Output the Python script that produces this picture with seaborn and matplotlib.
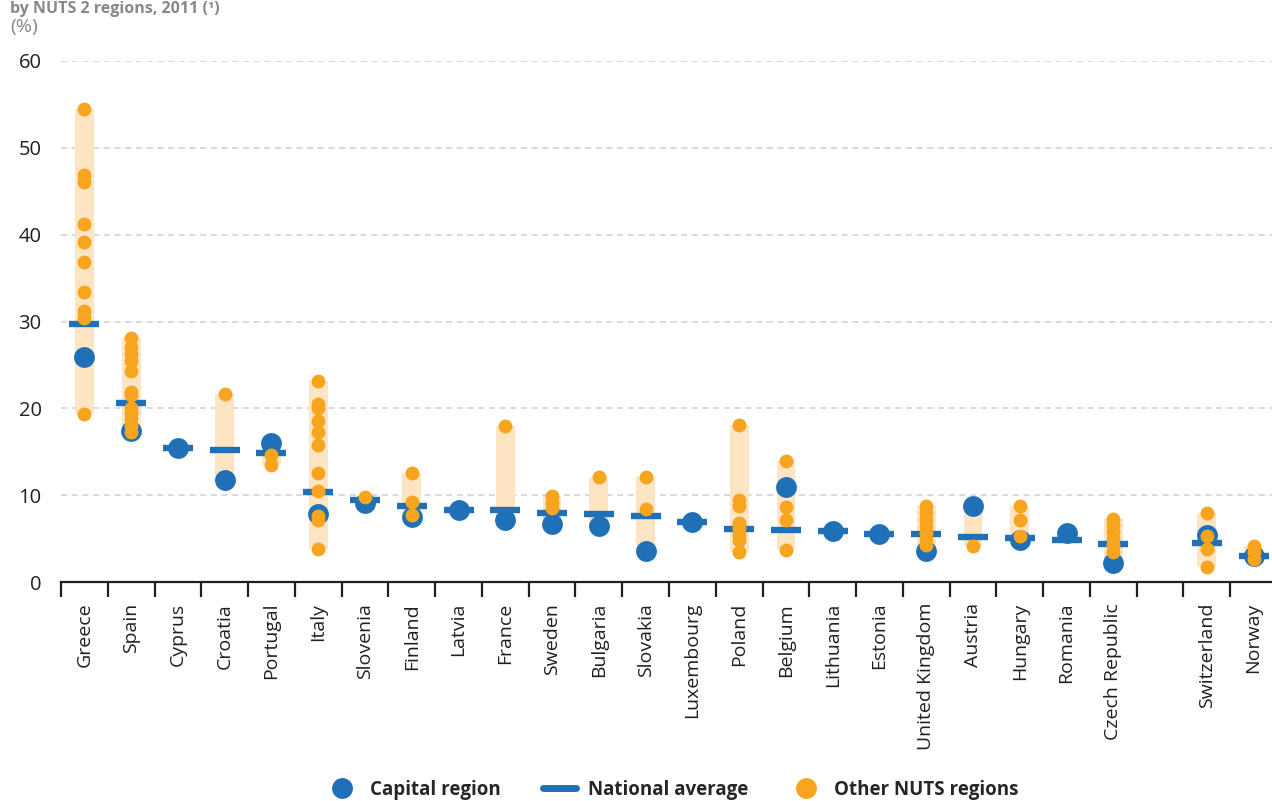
import numpy as np
import pandas as pd
import matplotlib
matplotlib.use("Agg")
import matplotlib.pyplot as plt
import seaborn as sns
from matplotlib.lines import Line2D

# ---------------- data ----------------
countries = ["Greece", "Spain", "Cyprus", "Croatia", "Portugal", "Italy", "Slovenia",
             "Finland", "Latvia", "France", "Sweden", "Bulgaria", "Slovakia",
             "Luxembourg", "Poland", "Belgium", "Lithuania", "Estonia",
             "United Kingdom", "Austria", "Hungary", "Romania", "Czech Republic",
             " ", "Switzerland", "Norway"]

capital = [25.9, 17.4, 15.4, 11.7, 16.0, 7.8, 9.1, 7.5, 8.3, 7.1, 6.7, 6.4, 3.6,
           6.9, np.nan, 10.9, 5.9, 5.5, 3.6, 8.8, 4.8, 5.6, 2.2, np.nan, 5.4, 3.0]

national = [29.7, 20.6, 15.4, 15.2, 14.9, 10.4, 9.4, 8.8, 8.3, 8.3, 7.9, 7.8, 7.6,
            6.9, 6.1, 6.0, 5.9, 5.5, 5.5, 5.2, 5.1, 4.8, 4.4, np.nan, 4.5, 3.0]

greece_other = [54.5, 46.9, 46.1, 41.2, 39.2, 36.8, 33.4, 31.2, 30.4, 19.3]
spain_other = [28.1, 27.1, 26.3, 25.4, 24.3, 21.9, 21.5, 20.0, 19.5, 18.8, 18.0, 17.3]
cyprus_other = []
croatia_other = [21.7]
portugal_other = [14.6, 13.5]
italy_other = [23.2, 20.5, 20.0, 18.5, 17.3, 15.8, 12.5, 10.5, 7.6, 7.1, 3.8]
slovenia_other = [9.8]
finland_other = [12.5, 9.2, 7.7]
latvia_other = []
france_other = [18.0]
sweden_other = [9.9, 9.1, 8.5]
bulgaria_other = [12.1]
slovakia_other = [12.1, 8.4]
luxembourg_other = []
poland_other = [18.1, 9.4, 8.7, 6.8, 6.2, 5.4, 4.8, 3.5]
belgium_other = [13.9, 8.6, 7.1, 3.7]
lithuania_other = []
estonia_other = []
uk_other = [8.7, 7.9, 7.1, 6.4, 5.6, 4.8, 4.3]
austria_other = [4.1]
hungary_other = [8.7, 7.1, 5.3]
romania_other = []
czech_other = [7.3, 6.6, 5.8, 5.0, 4.3, 3.5]
gap_other = []
switzerland_other = [8.0, 5.3, 3.8, 1.7]
norway_other = [4.1, 3.5, 2.7]

others = [greece_other, spain_other, cyprus_other, croatia_other, portugal_other,
          italy_other, slovenia_other, finland_other, latvia_other, france_other,
          sweden_other, bulgaria_other, slovakia_other, luxembourg_other,
          poland_other, belgium_other, lithuania_other, estonia_other, uk_other,
          austria_other, hungary_other, romania_other, czech_other, gap_other,
          switzerland_other, norway_other]

y_ticks = [0, 10, 20, 30, 40, 50, 60]

# ---------------- tables ----------------
df_cap = pd.DataFrame({"country": countries, "value": capital}).dropna()
df_nat = pd.DataFrame({"country": countries, "value": national})
rows = [(c, v) for c, vals in zip(countries, others) for v in vals]
df_oth = pd.DataFrame(rows, columns=["country", "value"])

band_lo, band_hi = [], []
for cap, vals in zip(capital, others):
    if len(vals) == 0:
        band_lo.append(np.nan); band_hi.append(np.nan)
    else:
        allv = list(vals) + ([cap] if not np.isnan(cap) else [])
        band_lo.append(min(allv)); band_hi.append(max(allv))
df_band = pd.DataFrame({"country": countries, "lo": band_lo, "hi": band_hi})

# ---------------- style ----------------
BLUE = "#2070B7"
ORANGE = "#F7A51E"
BAND = "#FDE5C4"
DARK = "#231F20"
GREY = "#888888"

sns.set_theme(style="white")
plt.rcParams["font.family"] = ["Open Sans", "DejaVu Sans"]

fig = plt.figure(figsize=(12.72, 8.01), dpi=100)
W, H = 1272, 801
ax = fig.add_axes([61 / W, (H - 582) / H, 1216 / W, 521 / H])

pos = {c: i for i, c in enumerate(countries)}

# range bands
bd = df_band.dropna()
ax.bar([pos[c] for c in bd["country"]], bd["hi"] - bd["lo"], bottom=bd["lo"],
       width=0.40, color=BAND, zorder=1, linewidth=0)

# capital regions
sns.stripplot(data=df_cap, x="country", y="value", order=countries, jitter=False,
              color=BLUE, size=15, linewidth=0, zorder=3, ax=ax)

# national averages
nd = df_nat.dropna()
xs = np.array([pos[c] for c in nd["country"]])
ax.hlines(nd["value"], xs - 0.32, xs + 0.32, color=BLUE, linewidth=4.6, zorder=4)

# other regions
sns.stripplot(data=df_oth, x="country", y="value", order=countries, jitter=False,
              color=ORANGE, size=10, linewidth=0, zorder=5, ax=ax)

for coll in ax.collections:
    coll.set_clip_on(False)

# ---------------- axes ----------------
ax.set_xlim(-0.5, len(countries) - 0.5)
ax.set_ylim(0, 60)
ax.set_xlabel("")
ax.set_ylabel("")

for s in ["top", "right", "left"]:
    ax.spines[s].set_visible(False)
ax.spines["bottom"].set_color(DARK)
ax.spines["bottom"].set_linewidth(1.6)
ax.spines["bottom"].set_zorder(6)

ax.set_yticks(y_ticks)
ax.set_yticklabels([str(t) for t in y_ticks])
ax.tick_params(axis="y", length=0, pad=14, labelsize=14.5, labelcolor=DARK)
ax.yaxis.grid(True, color="#CFCFCF", linewidth=1.1, linestyle=(0, (4, 3)))
ax.xaxis.grid(False)
ax.set_axisbelow(True)

ax.set_xticks(np.arange(-0.5, len(countries), 1.0))
ax.set_xticklabels([])
ax.tick_params(axis="x", which="major", length=11, width=1.6, color=DARK,
               direction="out", bottom=True)
ax.set_xticks(np.arange(len(countries)), minor=True)
ax.set_xticklabels(countries, minor=True, rotation=90, fontsize=14, color=DARK,
                   va="top", ha="center")
ax.tick_params(axis="x", which="minor", length=0, pad=15)

# ---------------- texts ----------------
fig.text(10 / W, 1 - 1 / H, "by NUTS 2 regions, 2011 (\u00b9)", fontsize=11.5,
         fontweight="bold", color=GREY, ha="left", va="top")
fig.text(10 / W, 1 - 27 / H, "(%)", fontsize=14, color=GREY, ha="left", va="center")

# ---------------- legend ----------------
handles = [
    Line2D([], [], marker="o", linestyle="none", markersize=15, color=BLUE,
           markeredgewidth=0),
    Line2D([], [], color=BLUE, linewidth=5),
    Line2D([], [], marker="o", linestyle="none", markersize=15, color=ORANGE,
           markeredgewidth=0),
]
labels = ["Capital region", "National average", "Other NUTS regions"]
fig.legend(handles, labels, loc="center", bbox_to_anchor=(672 / W, 1 - 790 / H),
           ncol=3, frameon=False, handlelength=1.8, columnspacing=2.2,
           handletextpad=0.6, prop={"weight": "bold", "size": 13.5})

fig.savefig("out.png", dpi=100)
